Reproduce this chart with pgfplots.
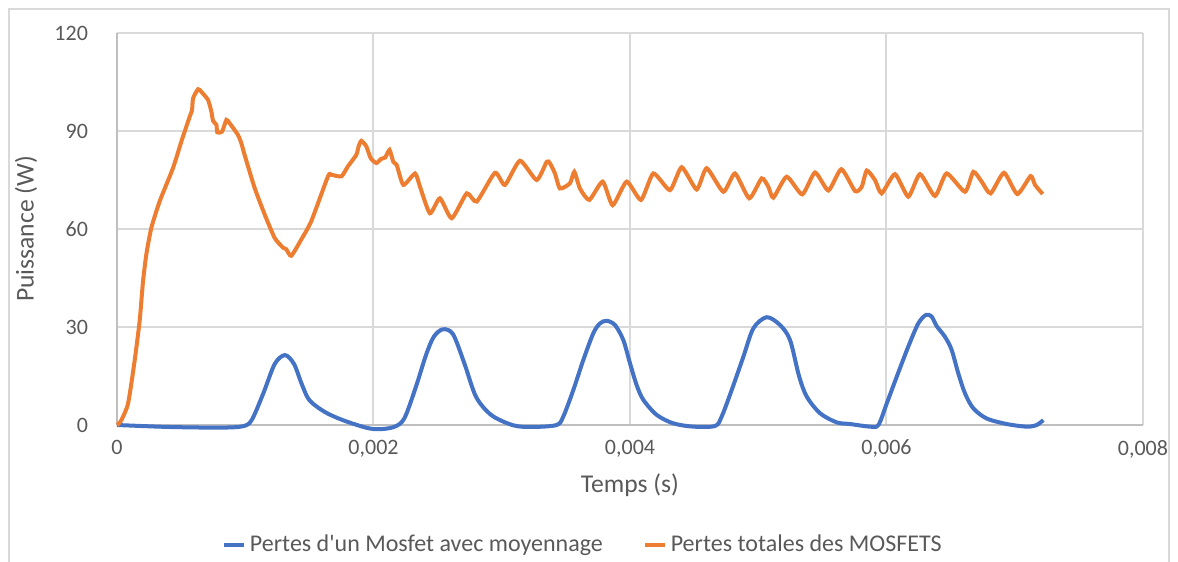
\documentclass[border=0pt]{standalone}
\usepackage{pgfplots}
\pgfplotsset{compat=1.18}
\usepackage{fontspec}
\setmainfont{Carlito}[Ligatures=TeXOff]
\definecolor{cblue}{HTML}{4472C4}
\definecolor{corange}{HTML}{ED7D31}
\definecolor{gridc}{HTML}{D9D9D9}
\definecolor{axgray}{HTML}{BFBFBF}
\definecolor{txt}{HTML}{595959}
\pgfplotstableread{
t P
0 0
0.00003 1.2
0.000086 6.5
0.000138 19.8
0.000177 32
0.000203 44
0.000229 52.3
0.000268 60.4
0.000333 68.5
0.000437 78.7
0.000502 86.8
0.000567 94.4
0.000585 96.4
0.000593 100
0.000632 102.8
0.000658 102
0.00071 99.5
0.000736 95.9
0.000749 93.1
0.000775 91.9
0.000782 89.6
0.000819 89.8
0.000853 93.4
0.000878 92.4
0.000943 88.8
0.000969 86.3
0.000995 82.7
0.001073 72.6
0.001151 64.5
0.001229 57.3
0.001294 54.3
0.00132 53.8
0.001359 51.8
0.001437 56.8
0.001515 62.4
0.001645 76.1
0.001671 76.6
0.001749 76.1
0.001801 79.2
0.001866 82.7
0.001884 85.3
0.001905 87
0.001944 85.3
0.001978 81.7
0.002022 80.2
0.002061 81.5
0.002092 81.9
0.002125 84.2
0.002155 80.5
0.002181 79.6
0.002233 73.5
0.002324 77
0.002363 72.9
0.00244 64.8
0.002518 69.4
0.00261 63.3
0.002727 70.9
0.002805 68.4
0.002947 77.2
0.003025 73.5
0.003142 80.9
0.003272 75
0.003351 80.6
0.003376 80.1
0.003415 77
0.003454 72.4
0.003532 74
0.003566 77.5
0.00361 72.4
0.003683 68.9
0.003787 74.5
0.003865 67.3
0.003974 74.5
0.004086 68.9
0.004182 77
0.004312 71.9
0.004403 78.9
0.00452 72.1
0.004598 78.6
0.004728 71.4
0.004819 77
0.00493 69.4
0.005027 75.5
0.005079 72.9
0.005118 69.6
0.005222 76
0.005343 70.6
0.005443 77.3
0.005547 71.8
0.005648 78.3
0.005755 71.6
0.005807 72.9
0.005846 77.9
0.00591 75
0.005962 70.9
0.006066 76.8
0.00617 69.9
0.006261 76.8
0.006378 70.1
0.006469 77
0.006612 71.4
0.006677 77.5
0.006742 74.5
0.006812 70.9
0.006916 77.2
0.00702 70.7
0.007124 76.2
0.007158 73.5
0.007218 70.7
}\totale
\pgfplotstableread{
t P
0 0
0.0004 -0.6
0.0008 -0.8
0.00098 -0.4
0.00105 1.5
0.00114 9.6
0.00123 18.7
0.00131 21.4
0.00138 18.7
0.00144 12.6
0.0015 7.6
0.00162 4.0
0.00176 1.5
0.00194 -0.8
0.00204 -1.3
0.00216 -0.6
0.00224 2
0.00233 11.6
0.00241 21.5
0.00247 27
0.00254 29.3
0.00262 27.8
0.00271 18.7
0.0028 8.6
0.00292 3
0.00309 -0.1
0.00324 -0.6
0.003428 0
0.00348 2.6
0.003558 10.7
0.003636 19.9
0.003714 28.1
0.003766 31.1
0.003818 31.9
0.003883 30.6
0.003948 26
0.004 18.9
0.004052 12.2
0.004104 7.7
0.004208 3.1
0.004338 0.5
0.004494 -0.5
0.004663 -0.3
0.004715 2.6
0.004793 10.7
0.004884 20.9
0.004962 29.6
0.005066 33
0.00517 30.6
0.005248 26
0.005318 15
0.005378 8.7
0.005482 3.6
0.005612 0.8
0.005716 0.3
0.005872 -0.5
0.005937 0
0.006002 6.6
0.00608 14.8
0.00617 24
0.006248 31.1
0.006308 33.7
0.006352 33.2
0.006391 30.3
0.006456 27
0.006508 23
0.00656 15.8
0.006612 9.7
0.006677 5.1
0.006781 2
0.006937 0.3
0.007093 -0.5
0.007171 0
0.007223 1.5
}\moyen
\begin{document}
\begin{tikzpicture}
\draw[gridc, line width=0.6pt] (4.5pt,-10pt) -- (4.5pt,276.5pt) -- (584.5pt,276.5pt) -- (584.5pt,-10pt);
\begin{axis}[
  at={(58.5pt,68.5pt)}, anchor=south west,
  scale only axis, width=513pt, height=196pt,
  xmin=0, xmax=0.008, ymin=0, ymax=120,
  xtick={0,0.002,0.004,0.006,0.008},
  ytick={0,30,60,90,120},
  scaled x ticks=false,
  axis lines*=left,
  axis line style={axgray, line width=1pt},
  grid=major,
  major grid style={gridc, line width=1pt},
  major tick length=0pt,
  clip=false,
  /pgf/number format/.cd, use comma, fixed, precision=3, 1000 sep={}, assume math mode=true,
  /pgfplots/.cd,
  ticklabel style={font=\fontsize{11}{13}\selectfont, text=txt},
  xticklabel shift=4pt,
  yticklabel shift=11pt,
  xlabel={Temps (s)},
  ylabel={Puissance (W)},
  label style={font=\fontsize{12.8}{15}\selectfont, text=txt},
  xlabel style={at={(axis description cs:0.5,-0.153)}, anchor=center},
  ylabel style={at={(axis description cs:-0.0887,0.5)}, anchor=center},
  legend columns=2,
  legend style={at={(axis description cs:0.455,-0.305)}, anchor=center, draw=none, fill=none,
    font=\fontsize{12}{14}\selectfont, text=txt,
    /tikz/every even column/.append style={column sep=18pt}},
  legend image code/.code={\draw[#1] (0pt,0pt) -- (10pt,0pt);},
]
\addplot[cblue, line width=2pt, smooth, tension=0.5] table[x=t,y=P] {\moyen};
\addlegendentry{Pertes d'un Mosfet avec moyennage}
\addplot[corange, line width=2pt, smooth, tension=0.35] table[x=t,y=P] {\totale};
\addlegendentry{Pertes totales des MOSFETS}
\end{axis}
\pgfresetboundingbox
\path[use as bounding box] (0,0) rectangle (589pt,281pt);
\end{tikzpicture}
\end{document}
